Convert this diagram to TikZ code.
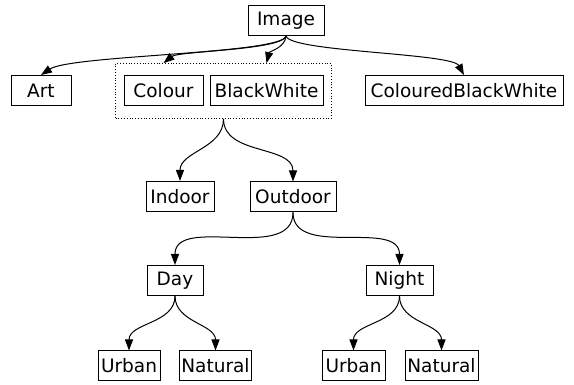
\documentclass[tikz,border=0pt]{standalone}
\usepackage{fontspec}
\setmainfont{DejaVu Sans}
\usetikzlibrary{arrows.meta,fit}

\tikzset{
  box/.style={draw, line width=1pt, minimum height=30pt, inner xsep=2pt, inner ysep=0pt,
    font=\fontsize{18.5}{20}\selectfont},
  edge/.style={line width=1pt, -{Triangle[length=11pt,width=8pt]}},
}

\begin{document}
\begin{tikzpicture}[x=1pt,y=-1pt]

  % keep the page the size of the reference
  \useasboundingbox (0,0) rectangle (574,385);

  % Define the root and the first level
  \node[box, minimum width=76] (image) at (286,20.5) {Image};
  \node[box, minimum width=60] (art) at (41,90.5) {Art};
  \node[box, minimum width=79] (colour) at (163.5,91) {Colour};
  \node[box, minimum width=113] (bw) at (266.5,91) {BlackWhite};
  \node[box, minimum width=198] (cbw) at (464,90.5) {ColouredBlackWhite};

  % Dotted group round Colour and BlackWhite
  \node[draw, dotted, line width=0.8pt, inner xsep=8pt, inner ysep=12pt,
    fit=(colour)(bw)] (group) {};

  % Second level
  \node[box, minimum width=68] (indoor) at (180,196.5) {Indoor};
  \node[box, minimum width=86] (outdoor) at (293,197) {Outdoor};

  % Third level
  \node[box, minimum width=56] (day) at (175,280.5) {Day};
  \node[box, minimum width=67] (night) at (399.5,280.5) {Night};

  % Leaves
  \node[box, minimum width=62] (urbanday) at (129,366) {Urban};
  \node[box, minimum width=71] (naturalday) at (215.5,366) {Natural};
  \node[box, minimum width=63] (urbannight) at (353.5,366) {Urban};
  \node[box, minimum width=73] (naturalnight) at (441.5,366) {Natural};

  % Edges from Image
  \draw[edge] (image.south) .. controls +(-4,18) and +(30,-20) .. (art.north);
  \draw[edge] (image.south) .. controls +(-3,14) and +(15,-12) .. (group.north -| colour.north);
  \draw[edge] (image.south) .. controls +(-1,12) and +(3,-12) .. (group.north -| bw.north);
  \draw[edge] (image.south) .. controls +(4,16) and +(-12,-22) .. (cbw.north);

  % Edges from the group
  \draw[edge] (group.south) to[out=-90, in=90] (indoor.north);
  \draw[edge] (group.south) to[out=-90, in=90] (outdoor.north);

  % Edges from Outdoor
  \draw[edge] (outdoor.south) to[out=-90, in=90] (day.north);
  \draw[edge] (outdoor.south) to[out=-90, in=90] (night.north);

  % Edges from Day and Night
  \draw[edge] (day.south) to[out=-90, in=90] (urbanday.north);
  \draw[edge] (day.south) to[out=-90, in=90] (naturalday.north);
  \draw[edge] (night.south) to[out=-90, in=90] (urbannight.north);
  \draw[edge] (night.south) to[out=-90, in=90] (naturalnight.north);

\end{tikzpicture}
\end{document}
